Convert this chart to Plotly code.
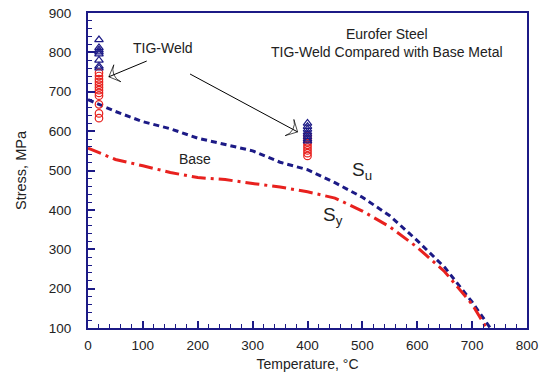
import plotly.graph_objects as go

# Ultimate strength (Su) and yield strength (Sy) of the base metal vs temperature
temp_su = [0, 50, 100, 150, 200, 250, 300, 350, 400, 450, 500, 550, 600, 650, 700, 733]
su_base = [680, 650, 624, 606, 582, 566, 550, 521, 502, 469, 432, 385, 322, 254, 166, 100]

temp_sy = [0, 50, 100, 150, 200, 250, 300, 350, 400, 450, 500, 550, 600, 650, 700, 726]
sy_base = [557, 528, 512, 495, 482, 477, 467, 458, 446, 430, 397, 357, 305, 243, 160, 100]

# TIG-weld test results
weld_su_20 = [832, 812, 806, 801, 796, 780, 765, 760]
weld_sy_20 = [748, 740, 732, 725, 718, 711, 704, 697, 690, 668, 645, 633]
weld_su_400 = [620, 612, 605, 598, 592, 586, 580, 575]
weld_sy_400 = [588, 580, 572, 565, 558, 551, 544, 537]

x_ticks = [0, 100, 200, 300, 400, 500, 600, 700, 800]
y_ticks = [100, 200, 300, 400, 500, 600, 700, 800, 900]

NAVY = "#1c1a86"
RED = "#e8211e"
FONT = "Liberation Sans, Arial, sans-serif"
TXT = "#222222"

fig = go.Figure()

fig.add_trace(go.Scatter(x=temp_su, y=su_base, mode="lines",
                         line=dict(color=NAVY, width=3, dash="6px,4px")))
fig.add_trace(go.Scatter(x=temp_sy, y=sy_base, mode="lines",
                         line=dict(color=RED, width=3, dash="14px,5px,3px,5px")))

for t, vals, sym, col in [(20, weld_sy_20, "circle-open", RED),
                          (400, weld_sy_400, "circle-open", RED),
                          (20, weld_su_20, "triangle-up-open", NAVY),
                          (400, weld_su_400, "triangle-up-open", NAVY)]:
    fig.add_trace(go.Scatter(x=[t] * len(vals), y=vals, mode="markers",
                             marker=dict(symbol=sym, size=7.5, color=col,
                                         line=dict(width=1.2, color=col))))

# Leader arrows from the "TIG-Weld" label to both weld data groups
for tail, head in [((107, 778), (38, 738)), ((186, 745), (382, 598))]:
    fig.add_trace(go.Scatter(
        x=[tail[0], head[0]], y=[tail[1], head[1]], mode="lines+markers",
        line=dict(color="black", width=1),
        marker=dict(symbol=["circle", "arrow-wide-open"], size=[0, 13],
                    angleref="previous", color="black",
                    line=dict(width=1, color="black")),
    ))

annotations = [
    dict(x=137, y=810, text="TIG-Weld", showarrow=False, font=dict(size=14)),
    dict(x=195, y=530, text="Base", showarrow=False, font=dict(size=14)),
    dict(x=499, y=500, text="S<sub>u</sub>", showarrow=False, font=dict(size=19)),
    dict(x=446, y=384, text="S<sub>y</sub>", showarrow=False, font=dict(size=19)),
    dict(x=0.68, y=0.965, xref="paper", yref="paper",
         text="Eurofer Steel<br>TIG-Weld Compared with Base Metal",
         showarrow=False, align="center", font=dict(size=14), xanchor="center",
         yanchor="top"),
]

axis_common = dict(
    showline=True, linecolor=NAVY, linewidth=2, mirror=True,
    ticks="inside", ticklen=7, tickwidth=1.5, tickcolor=NAVY,
    showgrid=False, zeroline=False, automargin=False,
    tickfont=dict(size=13.5, color=TXT, family=FONT),
    minor=dict(ticks="inside", ticklen=4, tickwidth=1, tickcolor=NAVY, dtick=20),
)

fig.update_layout(
    width=549, height=376,
    margin=dict(l=88, r=22, t=13, b=48),
    paper_bgcolor="white", plot_bgcolor="white",
    showlegend=False,
    font=dict(family=FONT, color=TXT, size=14),
    annotations=annotations,
    xaxis=dict(range=[0, 800], tickvals=x_ticks, ticklabelstandoff=4,
               title=dict(text="Temperature, °C", font=dict(size=14), standoff=7),
               **axis_common),
    yaxis=dict(range=[100, 900], tickvals=y_ticks, ticklabelstandoff=12,
               title=dict(text="Stress, MPa", font=dict(size=14.5), standoff=19),
               **axis_common),
)

fig.write_html("out.html")
